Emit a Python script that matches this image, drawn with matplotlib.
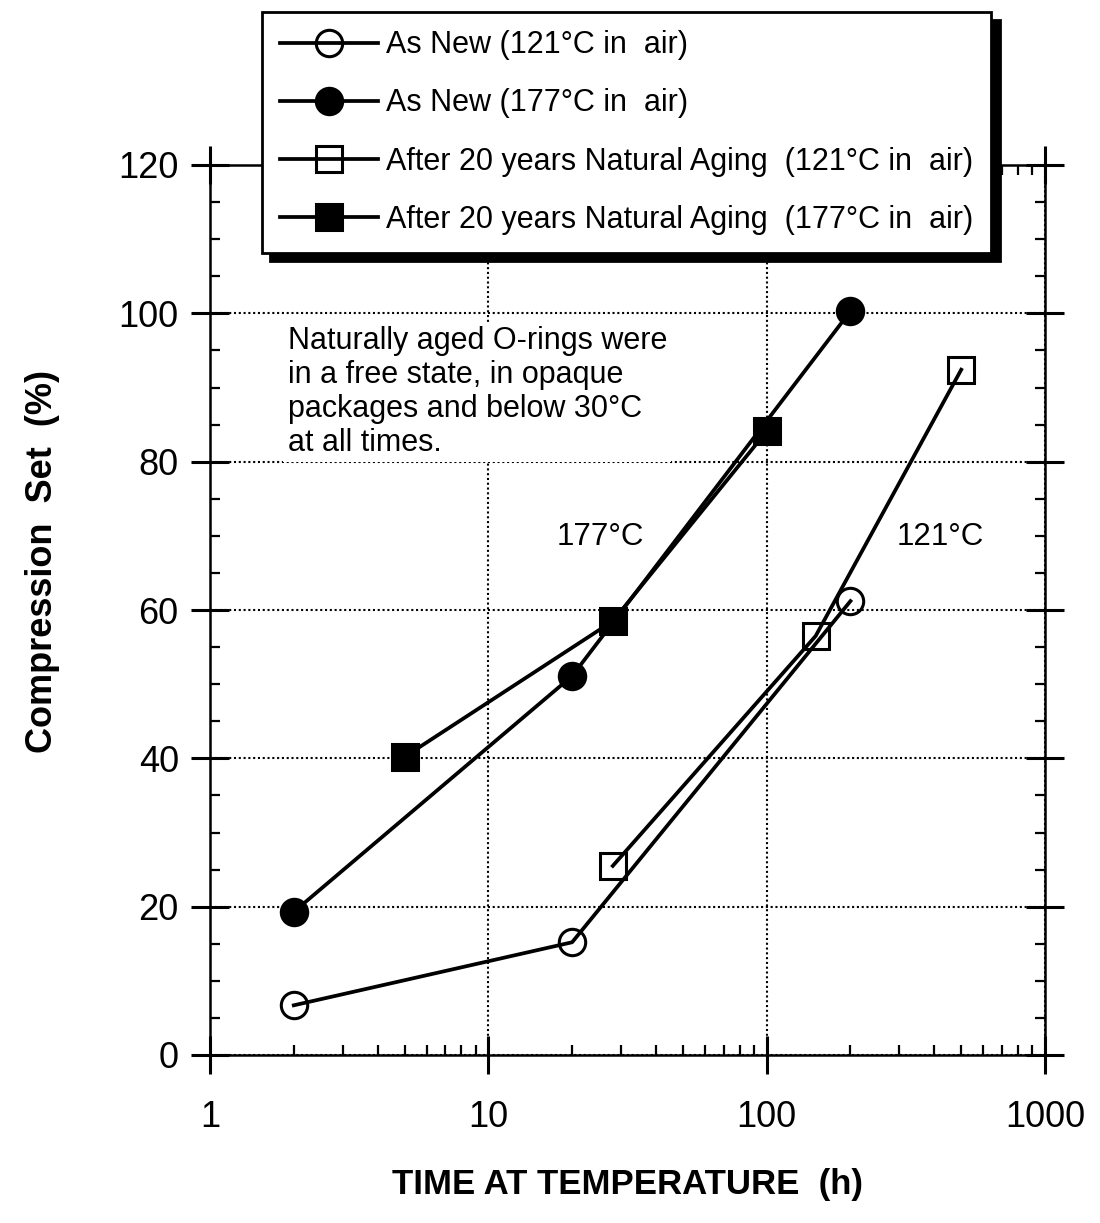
import matplotlib
matplotlib.use("Agg")
import matplotlib.pyplot as plt
from matplotlib.lines import Line2D
from matplotlib.ticker import FixedLocator, LogLocator, NullFormatter

plt.rcParams['font.family'] = ['Liberation Sans', 'DejaVu Sans']

# data (time in h, compression set in %)
new_121_t = [2, 20, 200]
new_121_cs = [6.7, 15.2, 61.2]
new_177_t = [2, 20, 200]
new_177_cs = [19.3, 51.1, 100.3]
aged_121_t = [28, 150, 500]
aged_121_cs = [25.5, 56.5, 92.4]
aged_177_t = [5, 28, 100]
aged_177_cs = [40.2, 58.5, 84.1]

labels = ["As New (121°C in  air)",
          "As New (177°C in  air)",
          "After 20 years Natural Aging  (121°C in  air)",
          "After 20 years Natural Aging  (177°C in  air)"]
x_ticks = [1, 10, 100, 1000]
x_ticklabels = ["1", "10", "100", "1000"]
y_ticks = [0, 20, 40, 60, 80, 100, 120]

fig = plt.figure(figsize=(11, 12.23), dpi=100)
ax = fig.add_axes([210 / 1100, 1 - 1055 / 1223, 835 / 1100, 890 / 1223])

line_kw = dict(color='black', lw=2.7, ms=19, mew=2.2, clip_on=False)
ax.plot(new_121_t, new_121_cs, marker='o', mfc='none', mec='black', **line_kw)
ax.plot(new_177_t, new_177_cs, marker='o', mfc='black', mec='black', **line_kw)
ax.plot(aged_121_t, aged_121_cs, marker='s', mfc='none', mec='black', **line_kw)
ax.plot(aged_177_t, aged_177_cs, marker='s', mfc='black', mec='black', **line_kw)

ax.set_xscale('log')
ax.set_xlim(1, 1000)
ax.set_ylim(0, 120)
ax.set_xticks(x_ticks)
ax.set_xticklabels(x_ticklabels)
ax.xaxis.set_minor_locator(LogLocator(base=10, subs=range(2, 10)))
ax.xaxis.set_minor_formatter(NullFormatter())
ax.set_yticks(y_ticks)
ax.yaxis.set_minor_locator(FixedLocator([v for v in range(0, 121, 5) if v % 20]))

ax.grid(True, which='major', color='black', ls=(0, (1, 1.3)), lw=1.5)
ax.tick_params(which='major', direction='inout', length=27, width=2.2,
               labelsize=26, top=True, right=True)
ax.tick_params(which='minor', direction='in', length=7, width=1.6,
               top=True, right=True)
ax.tick_params(axis='x', which='major', pad=19)
ax.tick_params(axis='y', which='major', pad=9)
for s in ax.spines.values():
    s.set_linewidth(1.8)

ax.set_xlabel("TIME AT TEMPERATURE  (h)", fontsize=25, fontweight='bold', labelpad=24)
ax.set_ylabel("Compression  Set  (%)", fontsize=26, fontweight='bold', labelpad=42,
              y=0.554)

ax.text(1.9, 98.3, "Naturally aged O-rings were\nin a free state, in opaque\n"
        "packages and below 30°C\nat all times.", fontsize=22, va='top', ha='left',
        linespacing=1.17,
        bbox=dict(facecolor='white', edgecolor='none', pad=3))
ax.text(25.2, 69.8, "177°C", fontsize=22.5, ha='center', va='center')
ax.text(420, 69.8, "121°C", fontsize=22.5, ha='center', va='center')

handles = [
    Line2D([], [], color='black', lw=2.7, marker='o', ms=19, mew=2.2, mfc='none', mec='black'),
    Line2D([], [], color='black', lw=2.7, marker='o', ms=19, mew=2.2, mfc='black', mec='black'),
    Line2D([], [], color='black', lw=2.7, marker='s', ms=19, mew=2.2, mfc='none', mec='black'),
    Line2D([], [], color='black', lw=2.7, marker='s', ms=19, mew=2.2, mfc='black', mec='black'),
]
leg = fig.legend(handles, labels, loc='upper left',
                 bbox_to_anchor=(262 / 1100, 1 - 12 / 1223),
                 fontsize=22, handlelength=3.2, handletextpad=0.25,
                 labelspacing=0.92, borderpad=0.6, borderaxespad=0,
                 fancybox=False, framealpha=1, edgecolor='black',
                 shadow={'ox': 6, 'oy': -6, 'color': 'black', 'alpha': 1})
leg.get_frame().set_linewidth(2)
leg.set_zorder(10)

fig.savefig("out.png", dpi=100)
